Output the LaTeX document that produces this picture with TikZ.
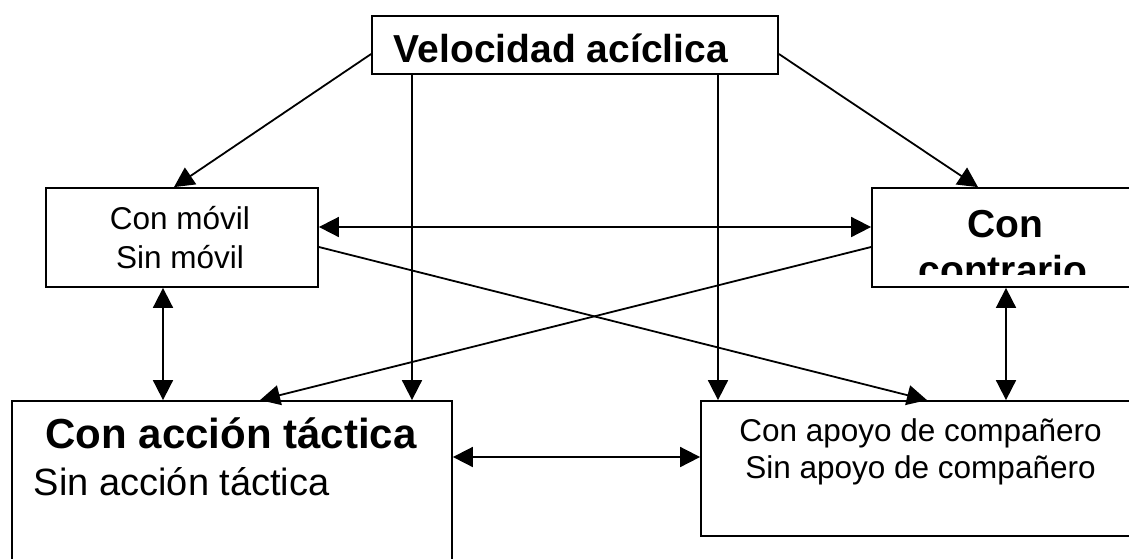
\documentclass[tikz,border=0pt]{standalone}
\usepackage{fontspec}
\setmainfont{Liberation Sans}
\usepackage{tikz}
\usetikzlibrary{arrows.meta}

\newcommand{\fgrande}{\bfseries\fontsize{39}{46}\selectfont}
\newcommand{\fmayor}{\bfseries\fontsize{42}{48}\selectfont}
\newcommand{\fnormal}{\fontsize{31.5}{38}\selectfont}
\newcommand{\fmedio}{\fontsize{38}{46}\selectfont}

\begin{document}
\begin{tikzpicture}[x=1pt, y=-1pt, line width=1.8pt,
        caja/.style={draw, rectangle, inner sep=0pt},
        txt/.style={anchor=base, inner sep=0pt},
        flecha/.style={-{Triangle[length=20pt,width=20pt]}},
        doble/.style={{Triangle[length=20pt,width=20pt]}-{Triangle[length=20pt,width=20pt]}}]
    \useasboundingbox (0,0) rectangle (1129,558);

    % cajas
    \node[caja, minimum width=406pt, minimum height=58pt] (vel) at (575,45) {};
    \node[caja, minimum width=272pt, minimum height=99pt] (movil) at (182,237.5) {};
    \node[caja, minimum width=268pt, minimum height=99pt] (contr) at (1006,237.5) {};
    \node[caja, minimum width=440pt, minimum height=200pt] (accion) at (232,501) {};
    \node[caja, minimum width=438pt, minimum height=135pt] (apoyo) at (920,468.5) {};

    % textos
    \node[txt, anchor=base west, font=\fgrande] (velT) at (393,62) {Velocidad acíclica};
    \node[txt, font=\fnormal] (movilA) at (180,229) {Con móvil};
    \node[txt, font=\fnormal] (movilB) at (180,268) {Sin móvil};
    \begin{scope}
        \clip (873,189) rectangle (1129,274);
        \node[txt, font=\fgrande] (contrA) at (1005,237) {Con};
        \node[txt, font=\fgrande] (contrB) at (1003,283) {contrario};
    \end{scope}
    \node[txt, font=\fmayor] (accionA) at (231,448) {Con acción táctica};
    \node[txt, anchor=base west, font=\fmedio] (accionB) at (33,495) {Sin acción táctica};
    \node[txt, font=\fnormal] (apoyoA) at (920.5,441) {Con apoyo de compañero};
    \node[txt, font=\fnormal] (apoyoB) at (920.5,478) {Sin apoyo de compañero};

    % flechas
    \draw[flecha] ([yshift=-9pt]vel.west) -- ([xshift=-8pt]movil.north);
    \draw[flecha] ([yshift=-9pt]vel.east) -- ([xshift=-28pt]contr.north);
    \draw[flecha] ([xshift=-163pt]vel.south) -- ([xshift=180pt]accion.north);
    \draw[flecha] ([xshift=143pt]vel.south) -- ([xshift=-202pt]apoyo.north);
    \draw[doble] ([yshift=10.5pt]movil.east) -- ([yshift=10.5pt]contr.west);
    \draw[flecha] ([yshift=-9.5pt]movil.east) -- ([xshift=7pt]apoyo.north);
    \draw[flecha] ([yshift=-9.5pt]contr.west) -- ([xshift=28pt]accion.north);
    \draw[doble] ([xshift=-19pt]movil.south) -- ([xshift=-69pt]accion.north);
    \draw[doble] (contr.south) -- ([xshift=86pt]apoyo.north);
    \draw[doble] ([yshift=44pt]accion.east) -- ([yshift=11.5pt]apoyo.west);
\end{tikzpicture}
\end{document}
